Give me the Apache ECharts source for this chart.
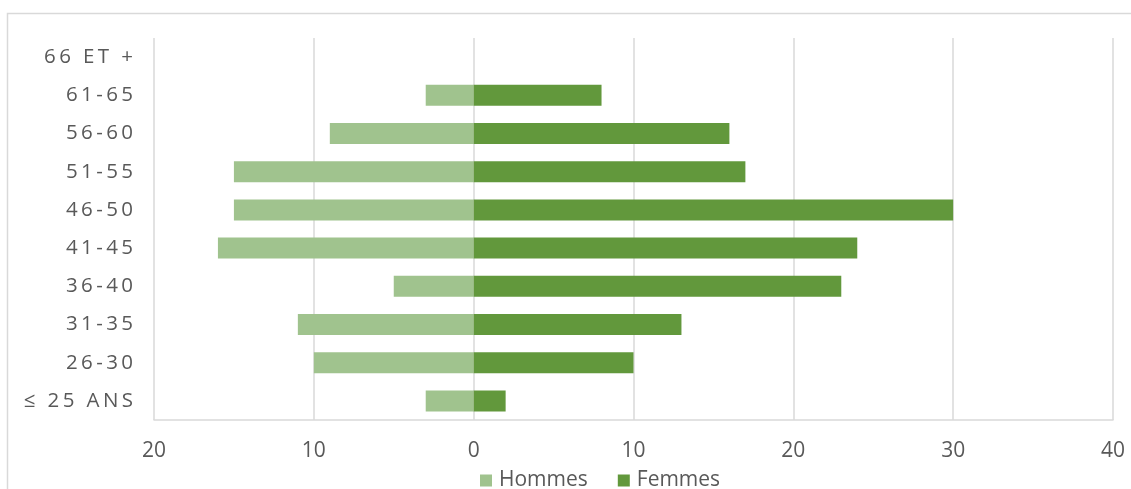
<!DOCTYPE html>
<html>
<head>
<meta charset="utf-8">
<title>Pyramide des âges</title>
<script src="https://cdn.jsdelivr.net/npm/echarts@6/dist/echarts.min.js"></script>
<style>
  html, body { margin: 0; padding: 0; background: #ffffff; }
  #chart { width: 1131px; height: 489px; }
</style>
</head>
<body>
<div id="chart"></div>
<script>
// Age groups, bottom to top
const ageGroups = ['≤ 25 ANS', '26-30', '31-35', '36-40', '41-45', '46-50', '51-55', '56-60', '61-65', '66 ET +'];
// Headcount per age group
const hommes = [3, 10, 11, 5, 16, 15, 15, 9, 3, 0];
const femmes = [2, 10, 13, 23, 24, 30, 17, 16, 8, 0];
// Horizontal axis range and step
const axisMin = -20;
const axisMax = 40;
const axisStep = 10;

const labelColor = '#595959';
const gridColor = '#d9d9d9';
const fontFamily = '"Open Sans", "DejaVu Sans", sans-serif';

// Spread the characters of a category label apart
function spaced(s) {
  return s.split('').join('\u2009');
}

const chart = echarts.init(document.getElementById('chart'), null, { renderer: 'canvas' });

chart.setOption({
  animation: false,
  backgroundColor: '#ffffff',
  textStyle: { fontFamily: fontFamily },
  graphic: [{
    type: 'rect',
    shape: { x: 7.5, y: 13.5, width: 1300, height: 600 },
    style: { fill: 'none', stroke: gridColor, lineWidth: 1.5 },
    silent: true,
    z: -10
  }],
  grid: { left: 154, right: 18, top: 38, bottom: 69, containLabel: false },
  legend: {
    data: ['Hommes', 'Femmes'],
    left: 475,
    top: 465,
    itemWidth: 12,
    itemHeight: 12,
    itemGap: 30,
    icon: 'rect',
    textStyle: { color: labelColor, fontSize: 21, fontFamily: fontFamily, padding: [0, 0, 0, 2] }
  },
  xAxis: {
    type: 'value',
    min: axisMin,
    max: axisMax,
    interval: axisStep,
    axisLine: { show: true, lineStyle: { color: gridColor, width: 1.5 } },
    axisTick: { show: false },
    splitLine: { show: true, lineStyle: { color: gridColor, width: 1.5 } },
    axisLabel: {
      color: labelColor,
      fontSize: 21,
      margin: 21,
      fontFamily: fontFamily,
      formatter: v => String(Math.abs(v))
    }
  },
  yAxis: {
    type: 'category',
    data: ageGroups,
    axisLine: { show: false },
    axisTick: { show: false },
    splitLine: { show: false },
    axisLabel: {
      color: labelColor,
      fontSize: 20.5,
      margin: 21,
      fontFamily: fontFamily,
      formatter: v => spaced(v)
    }
  },
  series: [
    {
      name: 'Hommes',
      type: 'bar',
      data: hommes.map(v => -v),
      barWidth: '55%',
      barGap: '-100%',
      itemStyle: { color: '#a0c38e' },
      z: 3
    },
    {
      name: 'Femmes',
      type: 'bar',
      data: femmes,
      barWidth: '55%',
      barGap: '-100%',
      itemStyle: { color: '#62983c' },
      z: 3
    }
  ]
});
</script>
</body>
</html>
